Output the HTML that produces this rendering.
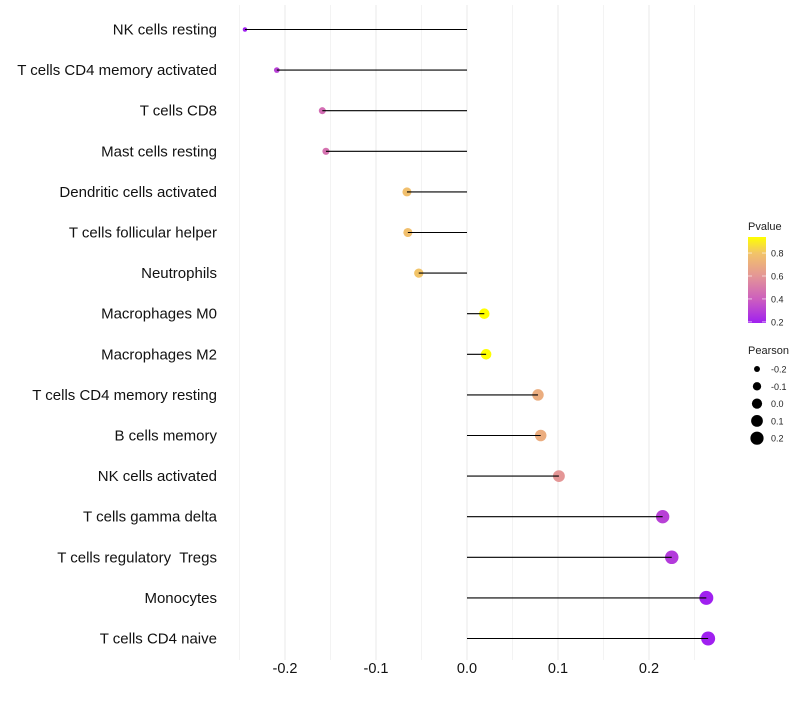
<!DOCTYPE html>
<html><head><meta charset="utf-8"><style>
body{margin:0;background:#fff;font-family:"Liberation Sans",sans-serif}
text{white-space:pre}
</style></head><body>
<svg id="c" width="800" height="700" xmlns="http://www.w3.org/2000/svg"></svg>
<script>
const categories=["NK cells resting","T cells CD4 memory activated","T cells CD8","Mast cells resting","Dendritic cells activated","T cells follicular helper","Neutrophils","Macrophages M0","Macrophages M2","T cells CD4 memory resting","B cells memory","NK cells activated","T cells gamma delta","T cells regulatory  Tregs","Monocytes","T cells CD4 naive"];
const pearson=[-0.244,-0.209,-0.159,-0.155,-0.066,-0.065,-0.053,0.019,0.021,0.078,0.081,0.101,0.215,0.225,0.263,0.265];
const pvalue=[0.19,0.3,0.45,0.47,0.78,0.78,0.8,0.95,0.95,0.7,0.7,0.6,0.3,0.28,0.18,0.18];
const xTicks=[-0.2,-0.1,0.0,0.1,0.2];
const xTickLabels=["-0.2","-0.1","0.0","0.1","0.2"];
const legendColorTicks=[0.8,0.6,0.4,0.2];
const legendSizes=[-0.2,-0.1,0.0,0.1,0.2];

const NS="http://www.w3.org/2000/svg";
const svg=document.getElementById('c');
function el(t,a,p){const e=document.createElementNS(NS,t);for(const k in a)e.setAttribute(k,a[k]);(p||svg).appendChild(e);return e;}
const x=v=>467+v*910;
const y=i=>29.5+i*40.6;
const rr=v=>Math.sqrt(5+(v+0.244)/(0.509)*44);
const stops=[[0.19,[160,32,240]],[0.4,[205,95,190]],[0.6,[228,150,150]],[0.8,[242,196,104]],[0.94,[255,255,0]]];
function col(p){p=Math.max(0.19,Math.min(0.94,p));for(let i=0;i<stops.length-1;i++){const a=stops[i],b=stops[i+1];if(p<=b[0]){const t=(p-a[0])/(b[0]-a[0]);return 'rgb('+a[1].map((c,j)=>Math.round(c+(b[1][j]-c)*t)).join(',')+')';}}return 'rgb(255,255,0)';}
for(let g=-0.25;g<=0.2501;g+=0.05){const l=el('line',{x1:x(g),x2:x(g),y1:5,y2:660,stroke:'#ebebeb','stroke-width':Math.abs(Math.round(g*100))%10===0?1.1:0.6});

}
xTicks.forEach((t,i)=>{const tx=el('text',{x:x(t),y:673,'text-anchor':'middle','font-size':14.5,fill:'#111'});tx.textContent=xTickLabels[i];

});
categories.forEach((c,i)=>{
const t=el('text',{x:217,y:y(i)+5,'text-anchor':'end','font-size':15,fill:'#111'});t.textContent=c;


const pt=el('circle',{cx:x(pearson[i]),cy:y(i),r:rr(pearson[i]),fill:col(pvalue[i])});


const ln=el('line',{x1:x(0),x2:x(pearson[i]),y1:y(i),y2:y(i),stroke:'#000','stroke-width':1.1});


});
const lt=el('text',{x:748,y:230,'font-size':11,fill:'#222'});lt.textContent='Pvalue';


const defs=el('defs',{});const gr=el('linearGradient',{id:'g',x1:0,y1:1,x2:0,y2:0},defs);
stops.forEach(s=>el('stop',{offset:(s[0]-0.19)/0.75,'stop-color':'rgb('+s[1].join(',')+')'},gr));
const bar=el('rect',{x:748,y:237,width:18,height:86,fill:'url(#g)'});


legendColorTicks.forEach(v=>{const yy=323-(v-0.19)/0.75*86;
el('line',{x1:748,x2:752,y1:yy,y2:yy,stroke:'#fff','stroke-opacity':0.6});el('line',{x1:762,x2:766,y1:yy,y2:yy,stroke:'#fff','stroke-opacity':0.6});
const t=el('text',{x:771,y:yy+3.5,'font-size':9,fill:'#222'});t.textContent=v.toFixed(1);

});
const st=el('text',{x:748,y:354,'font-size':11,fill:'#222'});st.textContent='Pearson';


legendSizes.forEach((v,i)=>{const yy=369+i*17.3;
const c=el('circle',{cx:757,cy:yy,r:rr(v),fill:'#000'});


const t=el('text',{x:771,y:yy+3.5,'font-size':9,fill:'#222'});t.textContent=v.toFixed(1);

});
</script>
</body></html>
